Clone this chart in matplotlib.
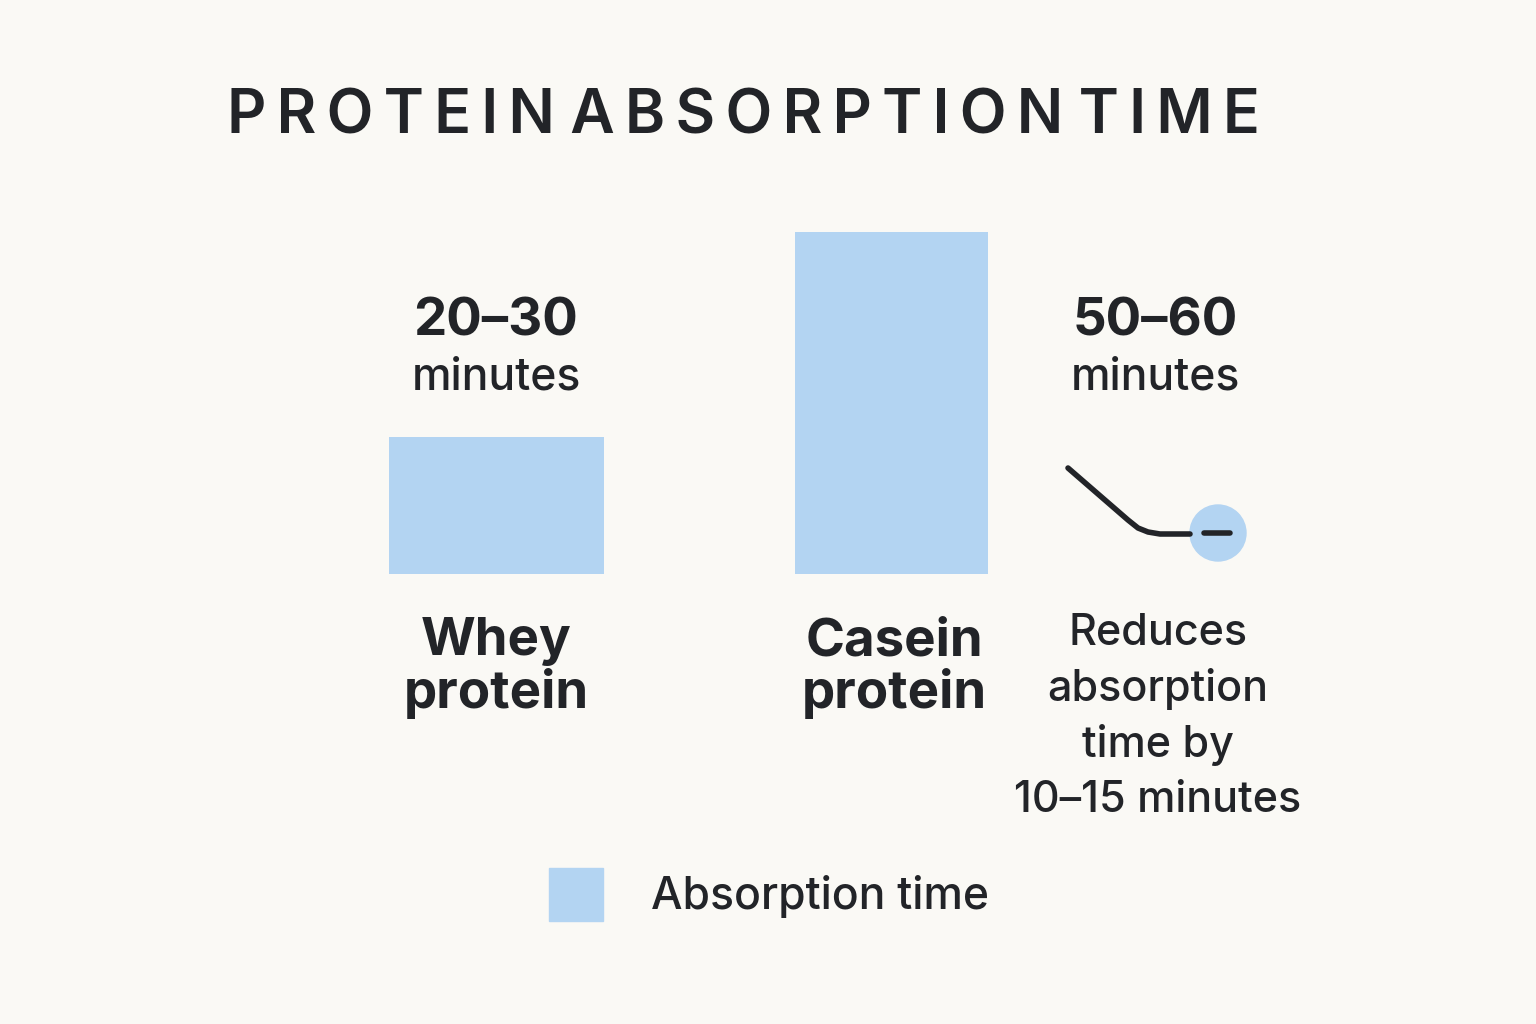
import matplotlib.pyplot as plt
from matplotlib.patches import Circle

proteins = ["Whey\nprotein", "Casein\nprotein"]
bar_heights = [24, 60]
range_labels = ["20–30\nminutes", "50–60\nminutes"]
note_text = "Reduces\nabsorption\ntime by\n10–15 minutes"
legend_label = "Absorption time"

bg = "#faf9f5"
blue = "#b3d4f2"
ink = "#222428"
plt.rcParams["font.family"] = "Inter"

fig = plt.figure(figsize=(15.36, 10.24), dpi=100, facecolor=bg)
W, H = 1536, 1024

# overlay axes in pixel coordinates for text and decoration
ov = fig.add_axes([0, 0, 1, 1])
ov.set_xlim(0, W)
ov.set_ylim(H, 0)
ov.axis("off")
ov.set_facecolor(bg)

# bar axes: baseline at y=574px, top of tallest bar at y=232px
ax = fig.add_axes([300 / W, 1 - 574 / H, 800 / W, (574 - 232) / H])
ax.set_xlim(300, 1100)
ax.set_ylim(0, max(bar_heights))
ax.axis("off")
centers = [496, 891]
widths = [215, 193]
ax.bar(centers, bar_heights, width=widths, color=blue)

ov.text(743, 117, "P R O T E I N   A B S O R P T I O N   T I M E".replace(" ", "\u2009").replace("\u2009\u2009\u2009", " "),
        ha="center", va="center", fontsize=44, fontweight="semibold", color=ink)

range_x = [496, 1155]
for x, lab in zip(range_x, range_labels):
    top, bottom = lab.split("\n")
    ov.text(x, 322, top, ha="center", va="center", fontsize=38, fontweight="bold", color=ink)
    ov.text(x, 378, bottom, ha="center", va="center", fontsize=32, fontweight="medium", color=ink)

for x, lab in zip([496, 894], proteins):
    ov.text(x, 668, lab, ha="center", va="center", fontsize=38, fontweight="bold",
            color=ink, linespacing=1.05)

ov.text(1158, 717, note_text, ha="center", va="center", fontsize=31, fontweight="medium",
        color=ink, linespacing=1.42)

# decorative curve icon
ov.plot([1068, 1128, 1138, 1148, 1160, 1190], [468, 520, 528, 532, 534, 534], color=ink, lw=4,
        solid_capstyle="round", solid_joinstyle="round")
ov.add_patch(Circle((1218, 533), 28, color=blue))
ov.plot([1204, 1230], [533, 533], color=ink, lw=4, solid_capstyle="round")

# legend
ov.add_patch(plt.Rectangle((549, 868), 54, 53, color=blue))
ov.text(651, 897, legend_label, ha="left", va="center", fontsize=32, fontweight="medium", color=ink)

fig.savefig("out.png", dpi=100, facecolor=bg)
